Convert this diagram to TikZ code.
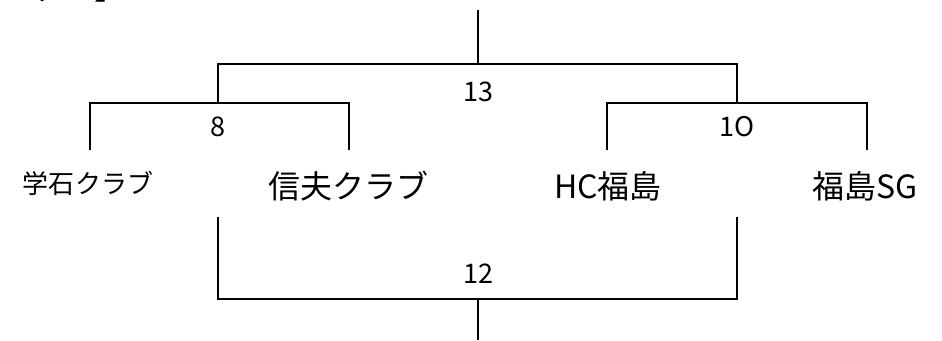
\documentclass[tikz,border=0pt]{standalone}
\usepackage{fontspec}
\newfontfamily\jpfont{Noto Sans CJK JP}
\tikzset{
  team/.style={font=\jpfont\fontsize{32}{32}\selectfont, inner sep=0pt},
  teamsmall/.style={font=\jpfont\fontsize{26}{26}\selectfont, inner sep=0pt},
  score/.style={font=\jpfont\fontsize{27}{27}\selectfont, inner sep=0pt},
  bracket/.style={line width=1.6pt},
  stem/.style={line width=1.1pt}
}

\begin{document}
\begin{tikzpicture}[x=1pt, y=-1pt]
    \useasboundingbox (0,0) rectangle (942,340);
    \clip (0,0) rectangle (942,340);

    % title, cut off at the top
    \node[team, anchor=base west] (title) at (-2,0) {カップ】};

    % teams
    \node[teamsmall] (gakuseki) at (88,183) {学石クラブ};
    \node[team] (shinbu) at (348,186) {信夫クラブ};
    \node[team] (hcfuku) at (608,186) {HC福島};
    \node[team] (fukusg) at (865,186) {福島SG};

    % bracket ends
    \coordinate (t1) at (90,150);
    \coordinate (t2) at (349,150);
    \coordinate (t3) at (607,150);
    \coordinate (t4) at (867,150);
    \coordinate (s1) at (218,103);
    \coordinate (s2) at (737,103);
    \coordinate (top13) at (478,64);
    \coordinate (finaltop) at (478,10);
    \coordinate (b1) at (218,217);
    \coordinate (b2) at (737,217);
    \coordinate (bot12) at (478,299);
    \coordinate (finalbot) at (478,340);

    \draw[bracket] (t1) |- (s1) -| (t2);
    \draw[bracket] (t3) |- (s2) -| (t4);
    \draw[bracket] (s1) |- (top13) -| (s2);
    \draw[stem] (top13) -- (finaltop);
    \draw[bracket] (b1) |- (bot12) -| (b2);
    \draw[stem] (bot12) -- (finalbot);

    % scores
    \node[score] (sc8) at (218,127) {8};
    \node[score] (sc10) at (737,127) {1O};
    \node[score] (sc13) at (478,92) {13};
    \node[score] (sc12) at (478,274) {12};

\end{tikzpicture}
\end{document}
